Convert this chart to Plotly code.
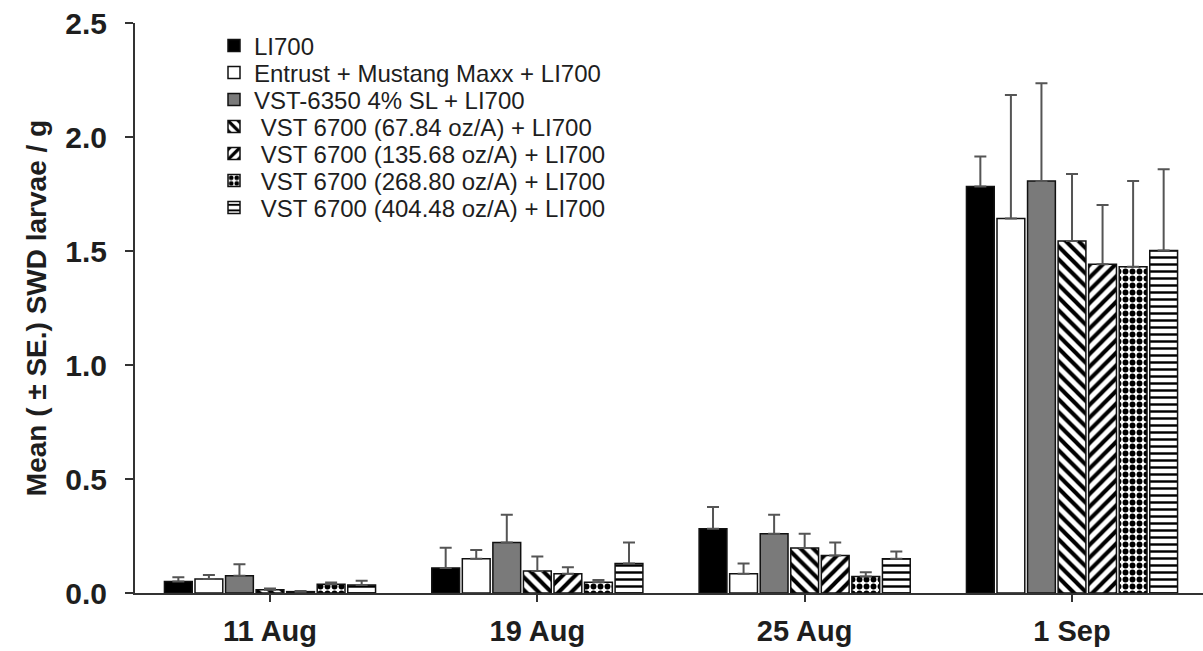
import plotly.graph_objects as go

# Sampling dates (x categories)
dates = ["11 Aug", "19 Aug", "25 Aug", "1 Sep"]

# Treatment names, in legend order
treatments = [
    "LI700",
    "Entrust + Mustang Maxx + LI700",
    "VST-6350 4% SL + LI700",
    " VST 6700 (67.84 oz/A) + LI700",
    " VST 6700 (135.68 oz/A) + LI700",
    " VST 6700 (268.80 oz/A) + LI700",
    " VST 6700 (404.48 oz/A) + LI700",
]

# Mean SWD larvae per gram and standard errors, one list per treatment
li700_mean = [0.050, 0.110, 0.282, 1.783]
li700_se = [0.019, 0.088, 0.095, 0.131]

entrust_mean = [0.061, 0.150, 0.084, 1.643]
entrust_se = [0.018, 0.039, 0.045, 0.541]

vst6350_mean = [0.076, 0.221, 0.260, 1.807]
vst6350_se = [0.050, 0.122, 0.083, 0.429]

vst6700_67_mean = [0.014, 0.097, 0.197, 1.544]
vst6700_67_se = [0.006, 0.063, 0.063, 0.294]

vst6700_135_mean = [0.006, 0.084, 0.164, 1.442]
vst6700_135_se = [0.003, 0.029, 0.057, 0.260]

vst6700_268_mean = [0.038, 0.047, 0.072, 1.431]
vst6700_268_se = [0.008, 0.010, 0.019, 0.376]

vst6700_404_mean = [0.035, 0.129, 0.150, 1.502]
vst6700_404_se = [0.019, 0.092, 0.032, 0.357]

means = [li700_mean, entrust_mean, vst6350_mean, vst6700_67_mean,
         vst6700_135_mean, vst6700_268_mean, vst6700_404_mean]
errors = [li700_se, entrust_se, vst6350_se, vst6700_67_se,
          vst6700_135_se, vst6700_268_se, vst6700_404_se]

# Fill styles for each treatment
fills = [
    dict(color="#000000", pattern=None),
    dict(color="#ffffff", pattern=None),
    dict(color="#7a7a7a", pattern=None),
    dict(color="#ffffff", pattern=dict(shape="\\", size=9, solidity=0.45)),
    dict(color="#ffffff", pattern=dict(shape="/", size=9, solidity=0.45)),
    dict(color="#ffffff", pattern=dict(shape=".", size=7, solidity=0.55)),
    dict(color="#ffffff", pattern=dict(shape="-", size=7, solidity=0.35)),
]

W, H = 1203, 651
M_L, M_R, M_T, M_B = 135, 0, 23, 58
PLOT_H = H - M_T - M_B
PLOT_W = W - M_L - M_R

FONT = "Liberation Sans, Arial, Helvetica, sans-serif"
INK = "#1e1e1e"

fig = go.Figure()

for i, (name, ys, es, st) in enumerate(zip(treatments, means, errors, fills)):
    marker = dict(color=st["color"], line=dict(color="#111111", width=1.5))
    if st["pattern"] is not None:
        marker["pattern"] = dict(fgcolor="#000000", bgcolor="#ffffff",
                                 fillmode="replace", **st["pattern"])
    legend_name = "\u00a0" + name[1:] if name.startswith(" ") else name
    fig.add_trace(go.Bar(
        x=dates,
        y=ys,
        name=legend_name,
        marker=marker,
        error_y=dict(type="data", symmetric=False, array=es,
                     arrayminus=[0] * len(es), color="#555555",
                     thickness=2, width=6),
        legend="legend" if i == 0 else f"legend{i + 1}",
    ))

# One single-entry legend per treatment so the rows sit tightly stacked
row0_px, row_step_px = 46.0, 27.0
legend_left_px = 214
legends = {}
for i in range(len(treatments)):
    key = "legend" if i == 0 else f"legend{i + 1}"
    legends[key] = dict(
        x=(legend_left_px - M_L) / PLOT_W,
        xanchor="left",
        y=(H - M_B - (row0_px + i * row_step_px)) / PLOT_H,
        yanchor="middle",
        bgcolor="rgba(0,0,0,0)",
        borderwidth=0,
        font=dict(family=FONT, size=24, color=INK),
    )

fig.update_layout(
    width=W,
    height=H,
    margin=dict(l=M_L, r=M_R, t=M_T, b=M_B, pad=0),
    paper_bgcolor="white",
    plot_bgcolor="white",
    barmode="group",
    bargap=0.2,
    bargroupgap=0.09,
    showlegend=True,
    font=dict(family=FONT, color=INK),
    **legends,
)

fig.update_xaxes(
    type="category",
    range=[-0.505, 3.49],
    showline=True,
    linecolor="#333333",
    linewidth=2,
    ticks="outside",
    ticklen=7,
    tickwidth=2,
    tickcolor="#333333",
    showgrid=False,
    zeroline=False,
    ticklabelstandoff=4,
    tickfont=dict(family=FONT, size=29, color=INK, weight="bold"),
)

fig.update_yaxes(
    range=[0, 2.5],
    tickvals=[0, 0.5, 1.0, 1.5, 2.0, 2.5],
    tickformat=".1f",
    showline=True,
    linecolor="#333333",
    linewidth=2,
    ticks="outside",
    ticklen=8,
    tickwidth=2,
    tickcolor="#333333",
    showgrid=False,
    zeroline=False,
    ticklabelstandoff=12,
    tickfont=dict(family=FONT, size=30, color=INK, weight="bold"),
    title=dict(text="Mean ( \u00b1 SE.) SWD larvae / g",
               font=dict(family=FONT, size=28, color=INK, weight="bold"),
               standoff=10),
)

fig.write_html("out.html")
